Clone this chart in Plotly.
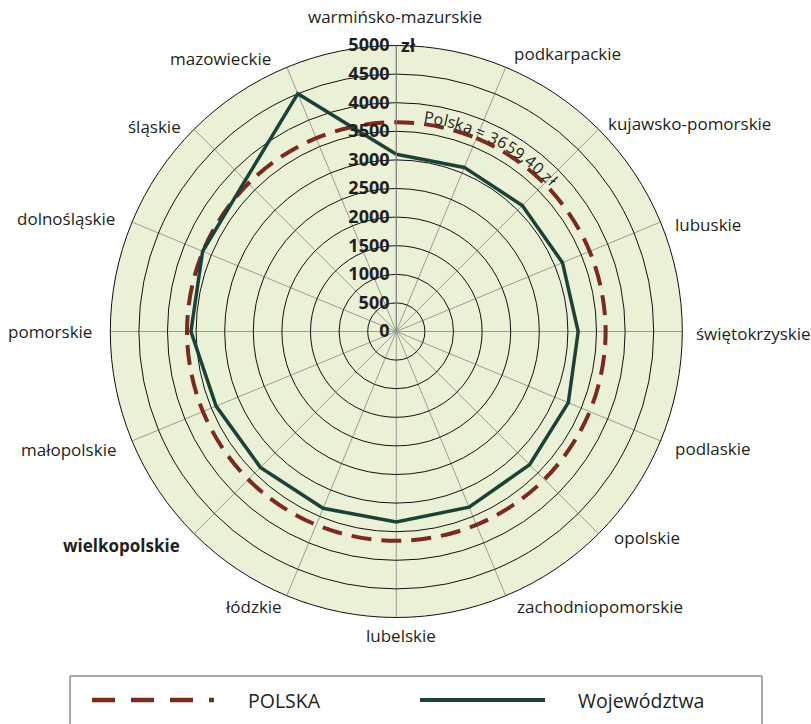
import math
import plotly.graph_objects as go

# ---------------- data ----------------
categories = [
    "warmińsko-mazurskie", "podkarpackie", "kujawsko-pomorskie", "lubuskie",
    "świętokrzyskie", "podlaskie", "opolskie", "zachodniopomorskie",
    "lubelskie", "łódzkie", "wielkopolskie", "małopolskie",
    "pomorskie", "dolnośląskie", "śląskie", "mazowieckie",
]
category_labels = [c if c != "wielkopolskie" else "<b>wielkopolskie</b>" for c in categories]
wojewodztwa = [3100, 3105, 3115, 3145, 3180, 3255, 3295, 3325,
               3330, 3345, 3360, 3410, 3590, 3665, 3735, 4500]
polska_value = 3659.40
polska = [polska_value] * len(categories)
radial_tickvals = [0, 500, 1000, 1500, 2000, 2500, 3000, 3500, 4000, 4500, 5000]
radial_ticktext = ["<b>%d</b>" % v for v in radial_tickvals]
radial_unit = "zł"
polska_label = "Polska = 3659,40 zł"
legend_names = ["POLSKA", "Województwa"]

# ---------------- layout constants ----------------
W, H = 811, 724
CX, CY, R = 396.3, 331.5, 286.0   # centre (px from left / top) and radius
TEXT = "#231f20"
FONT = "Open Sans"
BG = "#ebf1d6"
RED = "#7a2a1f"
GREEN = "#1b4236"

# category label placement (px from left/top, anchor), in category order
label_pos = [
    (394.5, 16.7, "center"), (512, 53.3, "left"), (606, 123.3, "left"),
    (672.7, 224.3, "left"), (693.7, 333, "left"), (672.7, 448.3, "left"),
    (612, 537.3, "left"), (515.3, 606.7, "left"), (401.3, 635, "center"),
    (284, 606.7, "right"), (181.7, 545, "right"), (119.3, 449.3, "right"),
    (94.3, 331.7, "right"), (116.7, 218.3, "right"), (182.7, 126, "right"),
    (273, 58.3, "right"),
]

closed = lambda a: list(a) + [a[0]]

fig = go.Figure()
fig.add_trace(go.Scatterpolar(
    r=closed(polska), theta=closed(categories), mode="lines", name=legend_names[0],
    line=dict(color=RED, width=4, dash="20px,10px", shape="spline"),
    showlegend=False, hoverinfo="skip"))
fig.add_trace(go.Scatterpolar(
    r=closed(wojewodztwa), theta=closed(categories), mode="lines", name=legend_names[1],
    line=dict(color=GREEN, width=3.5), showlegend=False))

dx0, dx1 = (CX - R) / W, (CX + R) / W
dy0, dy1 = (H - CY - R) / H, (H - CY + R) / H

fig.update_layout(
    width=W, height=H, autosize=False,
    margin=dict(l=0, r=0, t=0, b=0),
    paper_bgcolor="white", plot_bgcolor="white",
    font=dict(family=FONT, color=TEXT),
    polar=dict(
        domain=dict(x=[dx0, dx1], y=[dy0, dy1]),
        bgcolor=BG,
        angularaxis=dict(
            type="category", categoryorder="array", categoryarray=categories,
            direction="clockwise", rotation=90,
            showticklabels=False, ticks="",
            showline=True, linecolor="#111", linewidth=1,
            showgrid=True, gridcolor="#9c9c94", gridwidth=1,
        ),
        radialaxis=dict(
            range=[0, 5000], angle=90, side="counterclockwise",
            tickmode="array", tickvals=radial_tickvals, ticktext=radial_ticktext,
            tickfont=dict(size=18, color=TEXT, family=FONT),
            showline=True, linecolor="#7d7d7d", linewidth=1,
            showgrid=True, gridcolor="#111", gridwidth=0.8,
            ticks="", tickangle=90,
        ),
    ),
)

# category labels
for lab, (lx, ly, anc) in zip(category_labels, label_pos):
    fig.add_annotation(x=lx / W, y=1 - ly / H, xref="paper", yref="paper",
                       text=lab, showarrow=False, xanchor=anc, yanchor="middle",
                       font=dict(size=17, color=TEXT, family=FONT))

# unit after the outermost radial tick label
fig.add_annotation(x=(CX + 3) / W, y=1 - (CY - R * radial_tickvals[-1] / 5000) / H,
                   xref="paper", yref="paper", text="<b>%s</b>" % radial_unit,
                   showarrow=False, xanchor="left", yanchor="middle",
                   font=dict(size=18, color=TEXT, family=FONT))

# ---------------- curved "Polska = ..." label ----------------
widths = {" ": 4, "P": 9, "o": 9, "l": 4, "s": 7, "k": 8, "a": 8, "=": 9,
          ",": 4, "z": 7, "ł": 5}
cw = [widths.get(ch, 9) for ch in polska_label]
centres = []
acc = 0
for w in cw:
    centres.append(acc + w / 2)
    acc += w
a_start, a_end, r_txt = 8.7, 46.2, 217.0
span = centres[-1] - centres[0]
for ch, c in zip(polska_label, centres):
    if ch == " ":
        continue
    ang = a_start + (c - centres[0]) / span * (a_end - a_start)
    t = math.radians(ang)
    px = CX + r_txt * math.sin(t)
    py = CY - r_txt * math.cos(t)
    fig.add_annotation(x=px / W, y=1 - py / H, xref="paper", yref="paper",
                       text=ch, showarrow=False, textangle=ang,
                       font=dict(size=16, color=TEXT, family=FONT),
                       xanchor="center", yanchor="middle")

# ---------------- legend (drawn) ----------------
def py_(y):
    return 1 - y / H

fig.add_shape(type="rect", xref="paper", yref="paper",
              x0=70 / W, x1=762 / W, y0=py_(740), y1=py_(676),
              line=dict(color="#555", width=1), fillcolor="rgba(0,0,0,0)")
fig.add_shape(type="line", xref="paper", yref="paper",
              x0=92 / W, x1=214 / W, y0=py_(700), y1=py_(700),
              line=dict(color=RED, width=4.5, dash="23px,16px"))
fig.add_shape(type="line", xref="paper", yref="paper",
              x0=420 / W, x1=545 / W, y0=py_(700), y1=py_(700),
              line=dict(color=GREEN, width=4))
fig.add_annotation(x=246 / W, y=py_(700), xref="paper", yref="paper",
                   text=legend_names[0], showarrow=False, xanchor="left", yanchor="middle",
                   font=dict(size=19.5, color=TEXT, family=FONT))
fig.add_annotation(x=576 / W, y=py_(700), xref="paper", yref="paper",
                   text=legend_names[1], showarrow=False, xanchor="left", yanchor="middle",
                   font=dict(size=19.5, color=TEXT, family=FONT))

fig.write_html("out.html", config={"displayModeBar": False},
               post_script="document.body.style.margin='0';document.body.style.overflow='hidden';")
